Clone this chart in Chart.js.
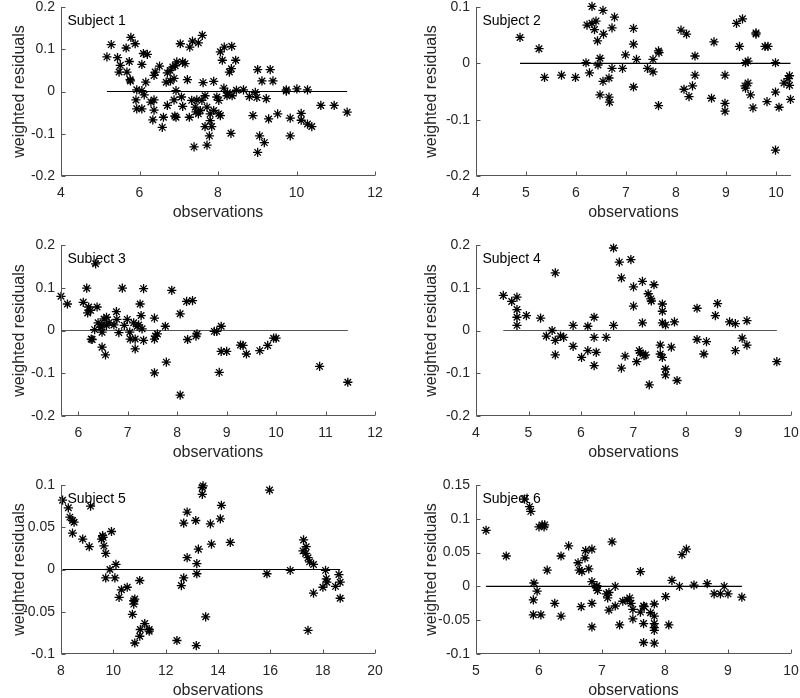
<!DOCTYPE html>
<html>
<head>
<meta charset="utf-8">
<script src="https://cdn.jsdelivr.net/npm/chart.js@4/dist/chart.umd.min.js"></script>
<style>
html,body{margin:0;padding:0;background:#fff;overflow:hidden;}
#wrap{position:relative;width:800px;height:698px;overflow:hidden;background:#fff;}
canvas{position:absolute;}
</style>
</head>
<body>
<div id="wrap"></div>
<script>
// ---------- DATA ----------
const subjectNames = ['Subject 1','Subject 2','Subject 3','Subject 4','Subject 5','Subject 6'];

const obs1 = [5.17,5.28,5.44,5.51,5.48,5.66,5.78,5.89,5.74,5.68,5.76,5.77,5.93,5.91,5.93,6.06,6.06,6.10,6.20,6.06,6.12,6.16,6.29,6.37,6.37,6.34,6.37,6.40,6.51,6.58,6.61,6.71,6.71,6.68,6.79,6.78,6.85,6.91,6.95,6.88,6.93,6.88,6.93,6.90,7.04,7.10,7.16,7.07,7.10,7.22,7.27,7.28,7.35,7.39,7.50,7.44,7.60,7.62,7.72,8.06,8.16,8.35,8.11,8.45,8.34,8.29,7.89,8.15,8.24,8.36,8.47,8.65,8.80,8.95,8.99,9.23,9.01,9.33,9.12,9.40,9.74,9.74,10.01,10.28,10.62,10.96,11.29,8.89,9.29,9.52,9.84,10.12,10.12,10.28,10.39,9.06,9.18,9.01,9.84,8.33,7.33,7.46,7.59,7.67,7.42,7.55,7.72,7.80,7.89,7.80,7.67,7.84,7.78,8.02,8.06,8.02,7.50,7.97,8.23];
const res1 = [0.082,0.111,0.080,0.062,0.046,0.103,0.128,0.113,0.071,0.046,0.028,0.025,0.004,-0.020,-0.041,-0.041,0.064,0.090,0.088,0.002,-0.008,0.022,-0.025,-0.020,-0.044,-0.067,0.038,0.046,0.060,-0.085,-0.061,-0.033,0.044,0.022,0.025,0.050,0.058,0.061,0.070,0.031,0.002,-0.020,-0.061,-0.058,0.113,0.070,0.066,-0.013,-0.035,0.028,-0.061,0.105,0.119,-0.131,0.115,-0.048,0.133,0.021,-0.127,0.094,0.105,0.107,0.074,0.074,0.054,0.046,0.024,0.008,-0.003,-0.010,0.003,0.004,-0.012,-0.002,-0.014,-0.017,0.052,0.052,0.025,0.025,0.004,0.001,0.006,0.004,-0.033,-0.033,-0.049,-0.057,-0.065,-0.053,-0.063,-0.052,-0.068,-0.077,-0.083,-0.105,-0.121,-0.144,-0.105,-0.099,-0.021,-0.020,-0.021,-0.010,-0.037,-0.045,-0.037,-0.053,-0.045,-0.069,-0.083,-0.083,-0.105,-0.053,-0.057,-0.021,-0.053,-0.013,-0.010];

const obs2 = [4.88,5.26,5.37,5.71,5.99,6.20,6.27,6.32,6.22,6.32,6.37,6.40,6.43,6.44,6.48,6.54,6.77,6.55,6.72,6.48,6.72,6.93,6.99,6.54,6.66,6.66,6.67,7.15,7.15,7.21,7.15,7.43,7.54,7.54,7.65,7.66,7.65,8.10,8.21,8.38,8.38,8.16,8.33,8.26,8.76,8.71,8.98,8.98,8.98,9.21,9.33,9.27,9.39,9.44,9.38,9.44,9.39,9.49,9.54,9.60,9.60,9.78,9.84,9.82,9.99,9.99,10.06,9.99,10.16,10.24,10.27,10.27,10.29];
const res2 = [0.046,0.026,-0.025,-0.021,-0.025,0.001,-0.017,0.101,0.068,0.071,0.060,0.075,0.040,-0.003,-0.056,0.094,0.082,0.052,0.063,0.009,-0.009,-0.009,0.015,-0.032,-0.026,-0.060,-0.069,0.062,0.034,0.007,-0.042,-0.009,-0.015,0.007,0.022,0.019,-0.075,0.059,0.052,0.013,-0.021,-0.046,-0.040,-0.059,0.038,-0.062,-0.021,-0.071,-0.085,0.071,0.079,0.030,0.001,0.004,-0.040,-0.035,-0.044,-0.056,-0.079,0.054,0.052,0.030,0.030,-0.068,0.001,-0.051,-0.078,-0.154,-0.035,-0.027,-0.022,-0.039,-0.064];

const obs3 = [5.65,5.78,6.10,6.17,6.21,6.25,6.19,6.38,6.35,6.26,6.28,6.33,6.40,6.45,6.48,6.52,6.57,6.48,6.48,6.55,6.57,6.62,6.72,6.77,6.78,6.82,6.89,6.93,6.99,7.04,7.05,7.12,7.15,7.15,7.19,7.22,7.25,7.27,7.29,7.32,7.32,7.54,7.54,7.56,7.54,7.60,7.76,7.78,7.89,8.06,8.06,8.19,8.31,8.21,8.38,8.40,8.75,8.80,8.89,8.89,9.00,8.85,9.28,9.33,9.40,9.67,9.83,9.95,10.00,10.88,11.45];
const res3 = [0.080,0.062,0.066,0.099,0.055,0.047,0.041,0.055,0.156,-0.020,-0.021,0.002,0.018,0.008,0.013,0.027,0.031,-0.004,-0.039,-0.057,0.012,0.018,0.013,0.044,0.026,-0.005,0.099,0.012,0.026,-0.004,-0.020,0.018,-0.020,-0.043,0.010,0.013,0.062,0.035,0.004,0.098,-0.023,0.029,-0.020,-0.013,-0.099,-0.008,0.010,-0.074,0.094,0.039,-0.151,0.068,0.070,-0.021,-0.013,-0.008,-0.002,-0.002,0.010,-0.049,-0.049,-0.098,-0.034,-0.035,-0.055,-0.047,-0.035,-0.018,-0.018,-0.084,-0.121];

const obs4 = [4.52,4.68,4.78,4.78,4.78,4.78,4.96,5.23,5.51,5.34,5.45,5.51,5.51,5.61,5.67,5.85,5.85,6.01,6.13,6.13,6.25,6.25,6.29,6.25,6.48,6.62,6.73,6.95,6.77,7.00,7.17,7.39,7.28,7.33,7.34,7.00,7.55,7.55,7.17,7.55,7.61,7.78,6.62,6.84,6.77,7.06,7.11,7.13,7.20,7.23,7.51,7.51,7.55,7.72,7.61,7.61,7.83,7.30,8.21,8.60,8.56,8.21,8.39,8.34,8.83,8.94,9.16,9.07,9.16,8.94,9.73];
const res4 = [0.082,0.068,0.078,0.049,0.031,0.012,0.035,0.029,0.135,-0.013,0.000,-0.023,-0.057,-0.013,-0.016,0.012,-0.037,-0.063,0.010,-0.047,0.031,-0.016,-0.051,-0.082,-0.016,0.193,0.160,0.166,0.123,0.102,0.115,0.107,0.086,0.074,0.069,0.057,0.062,0.045,0.018,0.018,0.013,0.020,0.012,-0.060,-0.088,-0.073,-0.047,-0.052,-0.059,-0.057,-0.034,-0.055,-0.063,-0.039,-0.090,-0.104,-0.117,-0.127,0.052,0.063,0.035,-0.021,-0.026,-0.055,0.020,0.016,0.023,-0.018,-0.034,-0.047,-0.073];

const obs5 = [8.06,8.28,8.34,8.44,8.50,8.44,8.83,9.13,9.08,9.59,9.61,9.55,9.64,9.71,9.93,9.87,9.71,10.06,10.10,10.22,10.31,10.53,10.82,10.78,10.78,10.73,11.01,10.82,11.01,11.03,11.20,11.37,11.37,12.43,12.60,12.69,12.69,12.82,12.82,13.15,13.17,13.25,13.19,13.19,13.43,13.40,13.40,13.71,14.13,14.09,13.75,14.47,13.53,15.97,15.87,16.76,17.27,17.37,17.25,17.35,17.44,17.50,17.65,17.65,17.44,18.11,18.14,18.16,18.01,18.62,18.67,18.49,18.67];
const res5 = [0.082,0.073,0.062,0.058,0.056,0.043,0.036,0.075,0.027,0.040,0.038,0.036,0.028,0.019,0.045,0.000,-0.010,-0.010,0.006,-0.033,-0.024,-0.021,-0.035,-0.037,-0.041,-0.053,-0.013,-0.087,-0.079,-0.071,-0.064,-0.073,-0.071,-0.084,-0.019,-0.010,0.055,0.068,0.014,0.058,-0.090,0.024,0.007,-0.005,0.099,0.097,0.089,0.054,0.076,0.060,0.030,0.032,-0.056,0.094,-0.005,-0.001,0.035,0.027,0.022,0.019,0.014,0.009,0.006,-0.028,-0.072,-0.001,-0.011,-0.015,-0.021,-0.006,-0.015,-0.020,-0.034];

const obs6 = [5.16,5.48,5.77,5.85,5.87,6.00,6.05,6.09,6.08,6.47,6.35,6.13,5.92,5.97,5.91,5.91,6.03,6.25,6.35,6.62,6.64,6.68,6.73,6.74,6.84,6.79,6.67,6.84,6.84,6.84,6.91,6.92,6.93,7.16,7.07,7.09,7.11,7.21,7.11,7.21,7.28,7.33,7.40,7.44,7.46,7.49,7.49,7.61,7.61,7.66,7.67,7.66,7.66,7.77,7.83,7.83,7.83,7.83,7.83,7.83,8.01,8.06,8.11,8.23,8.27,8.34,8.46,8.67,8.78,8.88,8.94,9.00,9.22];
const res6 = [0.083,0.045,0.129,0.118,0.111,0.088,0.091,0.091,0.088,0.060,0.045,0.024,0.005,-0.007,-0.020,-0.042,-0.042,-0.025,-0.044,0.035,0.024,0.022,0.042,0.053,0.055,0.026,-0.030,-0.025,-0.060,0.007,-0.002,0.001,-0.006,0.066,-0.011,-0.017,-0.009,0.000,-0.035,-0.029,-0.057,-0.022,-0.020,-0.017,-0.025,-0.034,-0.048,0.022,-0.038,-0.029,-0.030,-0.055,-0.083,-0.039,-0.026,-0.044,-0.055,-0.061,-0.065,-0.084,-0.015,-0.057,0.009,0.000,0.047,0.055,0.002,0.004,-0.011,-0.011,0.000,-0.011,-0.016];

// x ranges and ticks
const xRange1 = [4, 12];     const xTicks1 = [4, 6, 8, 10, 12];
const xRange2 = [4, 10.3];   const xTicks2 = [4, 5, 6, 7, 8, 9, 10];
const xRange3 = [5.65, 12];  const xTicks3 = [6, 7, 8, 9, 10, 11, 12];
const xRange4 = [4, 10];     const xTicks4 = [4, 5, 6, 7, 8, 9, 10];
const xRange5 = [8, 20];     const xTicks5 = [8, 10, 12, 14, 16, 18, 20];
const xRange6 = [5, 10];     const xTicks6 = [5, 6, 7, 8, 9, 10];
// y ticks (range = first..last)
const yTicks1 = [-0.2, -0.1, 0, 0.1, 0.2];
const yTicks2 = [-0.2, -0.1, 0, 0.1];
const yTicks3 = [-0.2, -0.1, 0, 0.1, 0.2];
const yTicks4 = [-0.2, -0.1, 0, 0.1, 0.2];
const yTicks5 = [-0.1, -0.05, 0, 0.05, 0.1];
const yTicks6 = [-0.1, -0.05, 0, 0.05, 0.1, 0.15];
const yLabels1 = ['-0.2', '-0.1', '0', '0.1', '0.2'];
const yLabels2 = ['-0.2', '-0.1', '0', '0.1'];
const yLabels5 = ['-0.1', '-0.05', '0', '0.05', '0.1'];
const yLabels6 = ['-0.1', '-0.05', '0', '0.05', '0.1', '0.15'];

const xTitle = 'observations';
const yTitle = 'weighted residuals';

// ---------- LAYOUT ----------
const FONT = '"Liberation Sans", Arial, Helvetica, sans-serif';
const TEXT = '#262626';
const AXIS = '#555555';

const panels = [
  {name: subjectNames[0], obs: obs1, res: res1, xr: xRange1, xt: xTicks1, yt: yTicks1, yl: yLabels1, col: 0, row: 0, zc: '#000'},
  {name: subjectNames[1], obs: obs2, res: res2, xr: xRange2, xt: xTicks2, yt: yTicks2, yl: yLabels2, col: 1, row: 0, zc: '#000'},
  {name: subjectNames[2], obs: obs3, res: res3, xr: xRange3, xt: xTicks3, yt: yTicks3, yl: yLabels1, col: 0, row: 1, zc: '#555'},
  {name: subjectNames[3], obs: obs4, res: res4, xr: xRange4, xt: xTicks4, yt: yTicks4, yl: yLabels1, col: 1, row: 1, zc: '#555'},
  {name: subjectNames[4], obs: obs5, res: res5, xr: xRange5, xt: xTicks5, yt: yTicks5, yl: yLabels5, col: 0, row: 2, zc: '#000'},
  {name: subjectNames[5], obs: obs6, res: res6, xr: xRange6, xt: xTicks6, yt: yTicks6, yl: yLabels6, col: 1, row: 2, zc: '#000'}
];

const colL = [61, 476], colR = [375, 791];
const rowT = [7, 245, 485], rowB = [176, 416, 654];
const canvasTop = [0, 233, 466], canvasH = [233, 233, 232];
const yTitleCenter = [20, 431.7];

const matlabAxes = {
  id: 'matlabAxes',
  afterDatasetsDraw(chart, args, opts) {
    const ctx = chart.ctx, a = chart.chartArea;
    const xs = chart.scales.x, ys = chart.scales.y;
    const L = Math.round(a.left) + 0.5, B = Math.round(a.bottom) - 0.5;
    ctx.save();
    ctx.strokeStyle = AXIS;
    ctx.lineWidth = 1;
    ctx.beginPath();
    ctx.moveTo(L, Math.round(a.top));
    ctx.lineTo(L, B);
    ctx.lineTo(Math.round(a.right), B);
    xs.ticks.forEach(t => {
      const px = Math.round(xs.getPixelForValue(t.value)) + 0.5;
      ctx.moveTo(px, B); ctx.lineTo(px, B - 4);
    });
    ys.ticks.forEach(t => {
      const py = Math.round(ys.getPixelForValue(t.value)) + 0.5;
      ctx.moveTo(L, py); ctx.lineTo(L + 4, py);
    });
    ctx.stroke();
    ctx.fillStyle = '#000';
    ctx.font = '14px ' + FONT;
    ctx.textBaseline = 'middle';
    ctx.textAlign = 'left';
    ctx.fillText(opts.label, a.left + 6.5, a.top + 14);
    ctx.restore();
  }
};

const wrap = document.getElementById('wrap');
panels.forEach(p => {
  const cLeft = p.col * 400, cTop = canvasTop[p.row], cH = canvasH[p.row];
  const L = colL[p.col], R = colR[p.col], T = rowT[p.row], B = rowB[p.row];
  const cv = document.createElement('canvas');
  cv.width = 400; cv.height = cH;
  cv.style.left = cLeft + 'px'; cv.style.top = cTop + 'px';
  cv.style.width = '400px'; cv.style.height = cH + 'px';
  wrap.appendChild(cv);

  const yW = L - cLeft, xH = cTop + cH - B;
  const pts = p.obs.map((x, i) => ({x: x, y: p.res[i]}));
  const xmin = Math.min(...p.obs), xmax = Math.max(...p.obs);

  new Chart(cv.getContext('2d'), {
    type: 'scatter',
    data: {
      datasets: [
        {
          type: 'line',
          data: [{x: xmin, y: 0}, {x: xmax, y: 0}],
          borderColor: p.zc, borderWidth: 1.2, pointRadius: 0, fill: false, showLine: true, order: 2
        },
        {
          data: pts,
          pointStyle: 'star', pointRadius: 4.6, pointHoverRadius: 4.6,
          borderColor: '#000', backgroundColor: '#000', borderWidth: 1.3,
          clip: false, order: 1
        }
      ]
    },
    options: {
      responsive: false, animation: false, devicePixelRatio: 1,
      events: [],
      layout: {padding: {left: 0, bottom: 0, top: T - cTop, right: cLeft + 400 - R}},
      plugins: {legend: {display: false}, tooltip: {enabled: false}, matlabAxes: {label: p.name}},
      scales: {
        x: {
          type: 'linear', min: p.xr[0], max: p.xr[1],
          afterBuildTicks: s => { s.ticks = p.xt.map(v => ({value: v})); },
          afterFit: s => { s.height = xH; s.paddingLeft = 0; s.paddingRight = 0; s.paddingTop = 0; s.paddingBottom = 0; },
          grid: {display: false, drawTicks: false},
          border: {display: false},
          ticks: {
            padding: 9, color: TEXT, autoSkip: false, maxRotation: 0, minRotation: 0,
            font: {family: FONT, size: 14},
            callback: (v) => String(v)
          },
          title: {display: true, text: xTitle, color: TEXT, font: {family: FONT, size: 16, lineHeight: 1},
                  padding: {top: 0, bottom: (cTop + cH) - (B + 37) - 8}}
        },
        y: {
          type: 'linear', min: p.yt[0], max: p.yt[p.yt.length - 1],
          afterBuildTicks: s => { s.ticks = p.yt.map(v => ({value: v})); },
          afterFit: s => { s.width = yW; s.paddingLeft = 0; s.paddingRight = 0; s.paddingTop = 0; s.paddingBottom = 0; },
          grid: {display: false, drawTicks: false},
          border: {display: false},
          ticks: {
            padding: 6, color: TEXT, autoSkip: false,
            font: {family: FONT, size: 14},
            callback: (v, i) => p.yl[i]
          },
          title: {display: true, text: yTitle, color: TEXT, font: {family: FONT, size: 16, lineHeight: 1},
                  padding: {top: yTitleCenter[p.col] - cLeft - 8, bottom: 0}}
        }
      }
    },
    plugins: [matlabAxes]
  });
});
</script>
</body>
</html>
